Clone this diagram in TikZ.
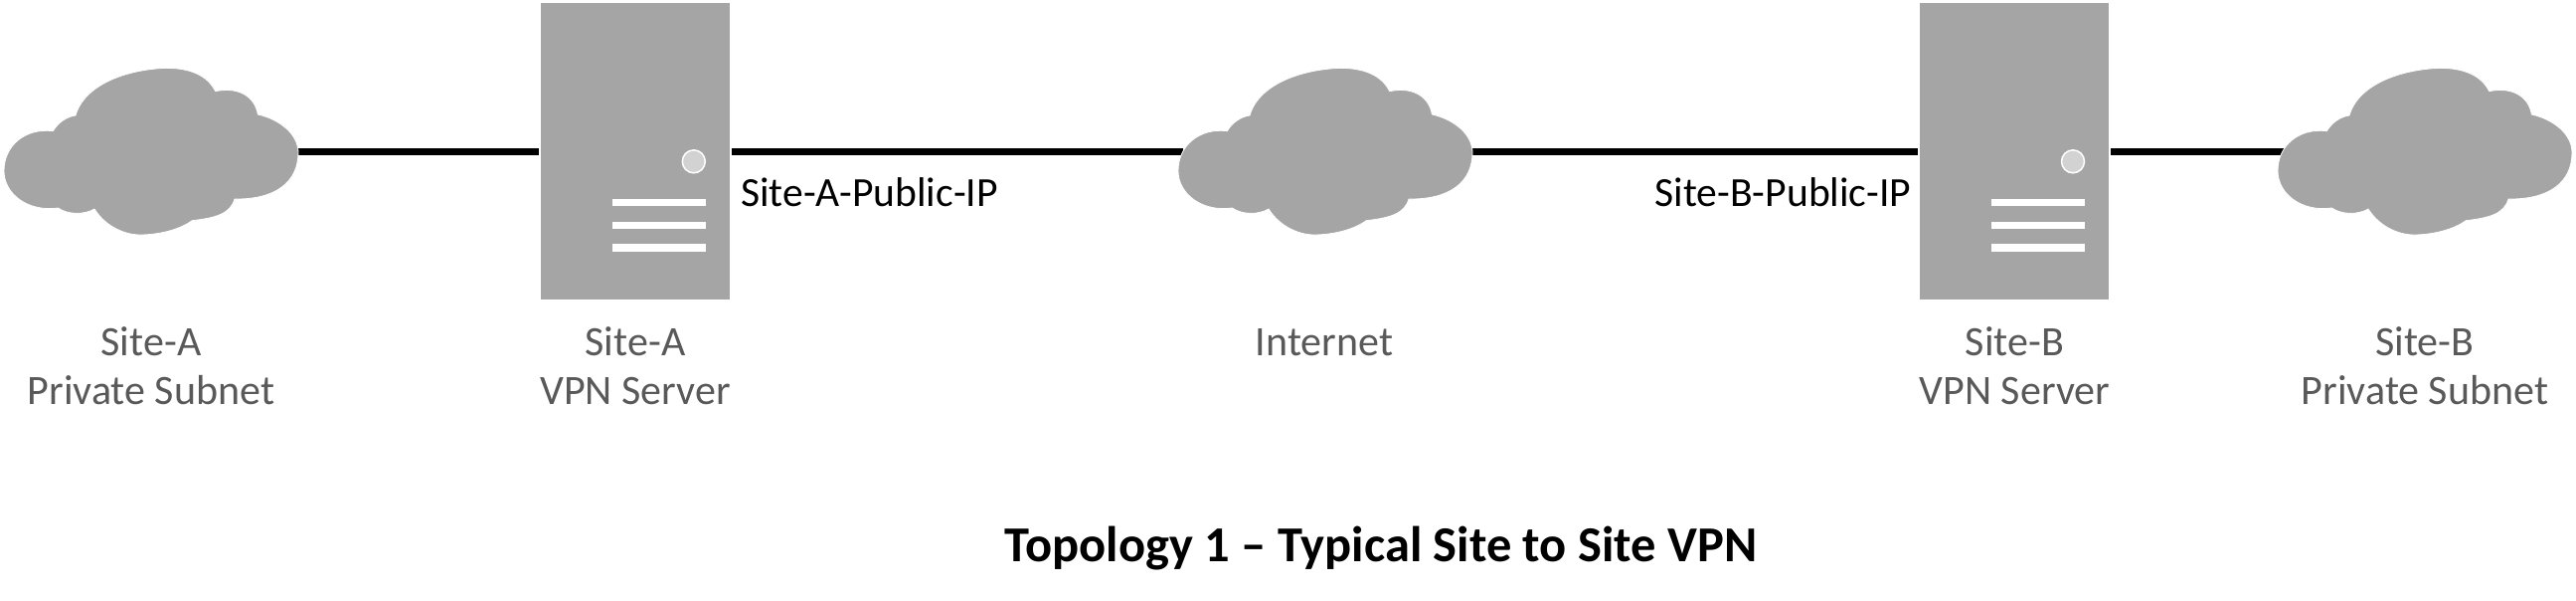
\documentclass[tikz,border=0pt]{standalone}
\usepackage{fontspec}
\setmainfont{Carlito}
\definecolor{shapegray}{HTML}{A5A5A5}
\definecolor{labelgray}{HTML}{595959}
\definecolor{ledgray}{HTML}{D2D2D2}
\newcommand{\cloudat}[1]{%
  \filldraw[cloudstyle, shift={(#1,40)}, scale=1/3]
  (160,275) .. controls (75,265) and (12,320) .. (12,395)
  .. controls (12,465) and (85,520) .. (175,507)
  .. controls (205,528) and (255,528) .. (285,510)
  .. controls (320,565) and (380,590) .. (430,588)
  .. controls (490,586) and (545,570) .. (580,545)
  .. controls (650,537) and (695,525) .. (708,480)
  .. controls (830,482) and (900,430) .. (900,340)
  .. controls (900,285) and (845,240) .. (778,225)
  .. controls (770,175) and (725,140) .. (650,155)
  .. controls (625,105) and (570,85) .. (500,85)
  .. controls (380,90) and (255,135) .. (228,228)
  .. controls (200,232) and (175,250) .. (160,275) -- cycle;}
\newcommand{\serverdetail}[1]{%
  \begin{scope}[shift={(#1)}]
    \fill[barstyle] (72,200) rectangle (165.5,207.3);
    \fill[barstyle] (72,222.7) rectangle (165.5,230);
    \fill[barstyle] (72,245.3) rectangle (165.5,253);
    \filldraw[ledstyle] (153.8,162.3) circle (11.5);
  \end{scope}}
\tikzset{
  x=1pt, y=-1pt,
  cloudstyle/.style={fill=shapegray, draw=white, line width=0.8pt},
  serverbox/.style={rectangle, fill=shapegray, inner sep=0pt, outer sep=2.4pt,
    minimum width=189.5pt, minimum height=298pt, anchor=north west},
  barstyle/.style={fill=white},
  ledstyle/.style={fill=ledgray, draw=white, line width=1.5pt},
  wire/.style={draw=black, line width=6.5pt},
  greylabel/.style={inner sep=0pt, outer sep=0pt, anchor=base, text=labelgray,
    font=\fontsize{42}{50}\selectfont},
  iplabel/.style={inner sep=0pt, outer sep=0pt, anchor=base, text=black,
    font=\fontsize{41.6}{50}\selectfont},
  titlelabel/.style={inner sep=0pt, outer sep=0pt, anchor=base, text=black,
    font=\fontsize{50.5}{60}\selectfont\bfseries},
}
\begin{document}
\begin{tikzpicture}
  \useasboundingbox (0,0) rectangle (2591,603);
  \coordinate (cloudAr) at (298,152.3);
  \coordinate (netl) at (1190,152.3);
  \coordinate (netr) at (1479,152.3);
  \coordinate (cloudBl) at (2297,152.3);
  \node[serverbox] (srvA) at (541.6,0.8) {};
  \node[serverbox] (srvB) at (1928.8,0.8) {};
  \draw[wire] (cloudAr) -- (srvA.west |- cloudAr);
  \draw[wire] (srvA.east |- netl) -- (netl);
  \draw[wire] (netr) -- (srvB.west |- netr);
  \draw[wire] (srvB.east |- cloudBl) -- (cloudBl);
  \cloudat{0}
  \cloudat{1181}
  \cloudat{2287}
  \serverdetail{544,0}
  \serverdetail{1931.2,0}
  \node[greylabel] (lab1a) at (152,357.5) {Site-A};
  \node[greylabel] (lab1b) at (152,406.5) {Private Subnet};
  \node[greylabel] (lab2a) at (639,357.5) {Site-A};
  \node[greylabel] (lab2b) at (639,406.5) {VPN Server};
  \node[greylabel] (lab3) at (1332,357) {Internet};
  \node[greylabel] (lab4a) at (2026.5,357.5) {Site-B};
  \node[greylabel] (lab4b) at (2026.5,406.5) {VPN Server};
  \node[greylabel] (lab5a) at (2439,357.5) {Site-B};
  \node[greylabel] (lab5b) at (2439,406.5) {Private Subnet};
  \node[iplabel] (ipA) at (874.5,207.2) {Site-A-Public-IP};
  \node[iplabel] (ipB) at (1793.5,207.2) {Site-B-Public-IP};
  \node[titlelabel] (title) at (1389,564.5) {Topology 1 – Typical Site to Site VPN};
\end{tikzpicture}
\end{document}
